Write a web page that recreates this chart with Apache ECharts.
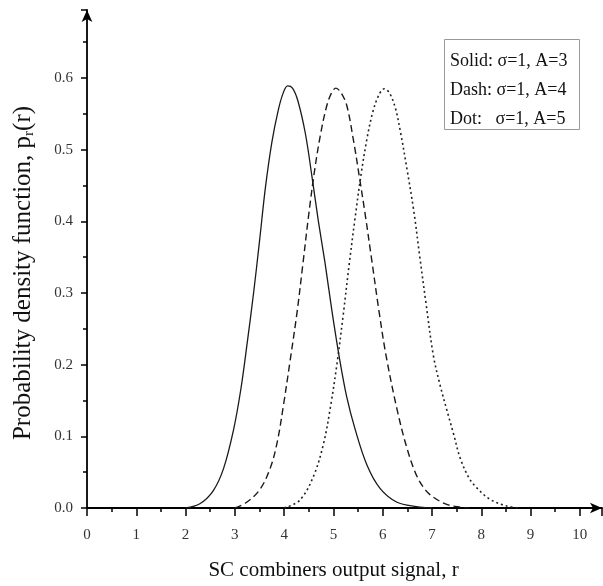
<!DOCTYPE html>
<html>
<head>
<meta charset="utf-8">
<script src="https://cdn.jsdelivr.net/npm/echarts@6/dist/echarts.min.js"></script>
<style>
html, body { margin: 0; padding: 0; background: #fff; }
#chartmain { width: 603px; height: 586px; }
</style>
</head>
<body>
<div id="chartmain"></div>
<script>
// values: r and p_r(r) for each curve
var solidR = [2.0, 2.29, 2.56, 2.77, 2.97, 3.12, 3.25, 3.38, 3.5, 3.62, 3.75, 3.88, 3.98, 4.07, 4.17, 4.28, 4.43, 4.56, 4.7, 4.83, 4.97, 5.12, 5.27, 5.44, 5.68, 5.95, 6.29, 6.69, 7.0];
var solidP = [0, 0.006, 0.024, 0.055, 0.108, 0.165, 0.23, 0.3, 0.372, 0.447, 0.51, 0.555, 0.579, 0.589, 0.586, 0.568, 0.523, 0.465, 0.398, 0.342, 0.275, 0.21, 0.155, 0.11, 0.06, 0.027, 0.008, 0.002, 0];

var dashR = [3.0, 3.24, 3.51, 3.72, 3.86, 3.99, 4.12, 4.26, 4.38, 4.5, 4.62, 4.74, 4.86, 4.96, 5.05, 5.15, 5.27, 5.41, 5.52, 5.64, 5.78, 5.92, 6.07, 6.29, 6.49, 6.69, 6.87, 7.03, 7.3, 7.6, 7.75];
var dashP = [0, 0.008, 0.026, 0.056, 0.092, 0.145, 0.205, 0.272, 0.34, 0.41, 0.472, 0.522, 0.56, 0.579, 0.586, 0.58, 0.562, 0.512, 0.465, 0.412, 0.345, 0.277, 0.212, 0.138, 0.084, 0.045, 0.025, 0.015, 0.005, 0.001, 0];

var dotR = [4.0, 4.32, 4.6, 4.8, 4.95, 5.08, 5.2, 5.32, 5.44, 5.56, 5.68, 5.8, 5.92, 6.03, 6.13, 6.25, 6.36, 6.49, 6.63, 6.75, 6.88, 7.03, 7.17, 7.3, 7.44, 7.57, 7.75, 7.91, 8.18, 8.5, 8.75];
var dotP = [0, 0.011, 0.045, 0.09, 0.145, 0.205, 0.27, 0.34, 0.405, 0.465, 0.515, 0.553, 0.576, 0.585, 0.58, 0.56, 0.525, 0.474, 0.415, 0.352, 0.285, 0.212, 0.17, 0.137, 0.103, 0.07, 0.042, 0.028, 0.012, 0.003, 0];

var legendLines = ['Solid: σ=1, A=3', 'Dash: σ=1, A=4', 'Dot:   σ=1, A=5'];

function pairs(xs, ys) {
	return xs.map(function(x, i) { return [x, ys[i]]; });
}

var serif = "'Liberation Serif', 'Times New Roman', serif";

var option = {
	backgroundColor : '#fff',
	animation : false,
	grid : {
		left : 87,
		right : 1,
		top : 10,
		bottom : 77
	},
	xAxis : {
		type : 'value',
		min : 0,
		max : 10.45,
		interval : 1,
		name : 'SC combiners output signal, r',
		nameLocation : 'middle',
		nameGap : 52,
		nameTextStyle : {
			fontFamily : serif,
			fontSize : 21,
			color : '#111',
			padding : [0, 22, 0, 0]
		},
		axisLine : {
			lineStyle : { color : '#000', width : 1.8 },
			symbol : ['none', 'arrow'],
			symbolSize : [8, 12]
		},
		axisTick : { length : 8, lineStyle : { color : '#000', width : 1.5 } },
		minorTick : { show : true, splitNumber : 2, length : 4, lineStyle : { color : '#000', width : 1.5 } },
		axisLabel : {
			margin : 20,
			fontFamily : serif,
			fontSize : 15,
			color : '#333',
			showMaxLabel : false
		},
		splitLine : { show : false }
	},
	yAxis : {
		type : 'value',
		min : 0,
		max : 0.695,
		interval : 0.1,
		name : '{a|Probability density function, p}{s|r}{a|(r)}',
		nameLocation : 'middle',
		nameGap : 50,
		nameRotate : 90,
		nameTextStyle : {
			padding : [0, 28, 0, 0],
			rich : {
				a : { fontFamily : serif, fontSize : 25, color : '#111' },
				s : { fontFamily : serif, fontSize : 15, color : '#111', verticalAlign : 'bottom', padding : [12, 0, 0, 0] }
			}
		},
		axisLine : {
			lineStyle : { color : '#000', width : 1.8 },
			symbol : ['none', 'arrow'],
			symbolSize : [8, 12]
		},
		axisTick : { length : 6, lineStyle : { color : '#000', width : 1.5 } },
		minorTick : { show : true, splitNumber : 2, length : 4, lineStyle : { color : '#000', width : 1.5 } },
		axisLabel : {
			margin : 14,
			fontFamily : serif,
			fontSize : 15,
			color : '#333',
			showMaxLabel : false,
			formatter : function(v) { return v.toFixed(1); }
		},
		splitLine : { show : false }
	},
	graphic : [ {
		type : 'rect',
		left : 444,
		top : 39,
		shape : { width : 135, height : 90 },
		style : { fill : '#fff', stroke : '#999', lineWidth : 1 }
	}, {
		type : 'text',
		left : 450,
		top : 47,
		style : {
			text : legendLines.join('\n'),
			fontFamily : serif,
			fontSize : 18,
			lineHeight : 29,
			fill : '#111'
		}
	} ],
	series : [ {
		name : 'Solid',
		type : 'line',
		data : pairs(solidR, solidP),
		showSymbol : false,
		smooth : 0.35,
		lineStyle : { color : '#1a1a1a', width : 1.3, type : 'solid' }
	}, {
		name : 'Dash',
		type : 'line',
		data : pairs(dashR, dashP),
		showSymbol : false,
		smooth : 0.35,
		lineStyle : { color : '#1a1a1a', width : 1.4, type : [7, 4] }
	}, {
		name : 'Dot',
		type : 'line',
		data : pairs(dotR, dotP),
		showSymbol : false,
		smooth : 0.35,
		lineStyle : { color : '#222', width : 1.6, type : [2, 3] }
	} ]
};

var myChart = echarts.init(document.getElementById('chartmain'));
myChart.setOption(option);
</script>
</body>
</html>
